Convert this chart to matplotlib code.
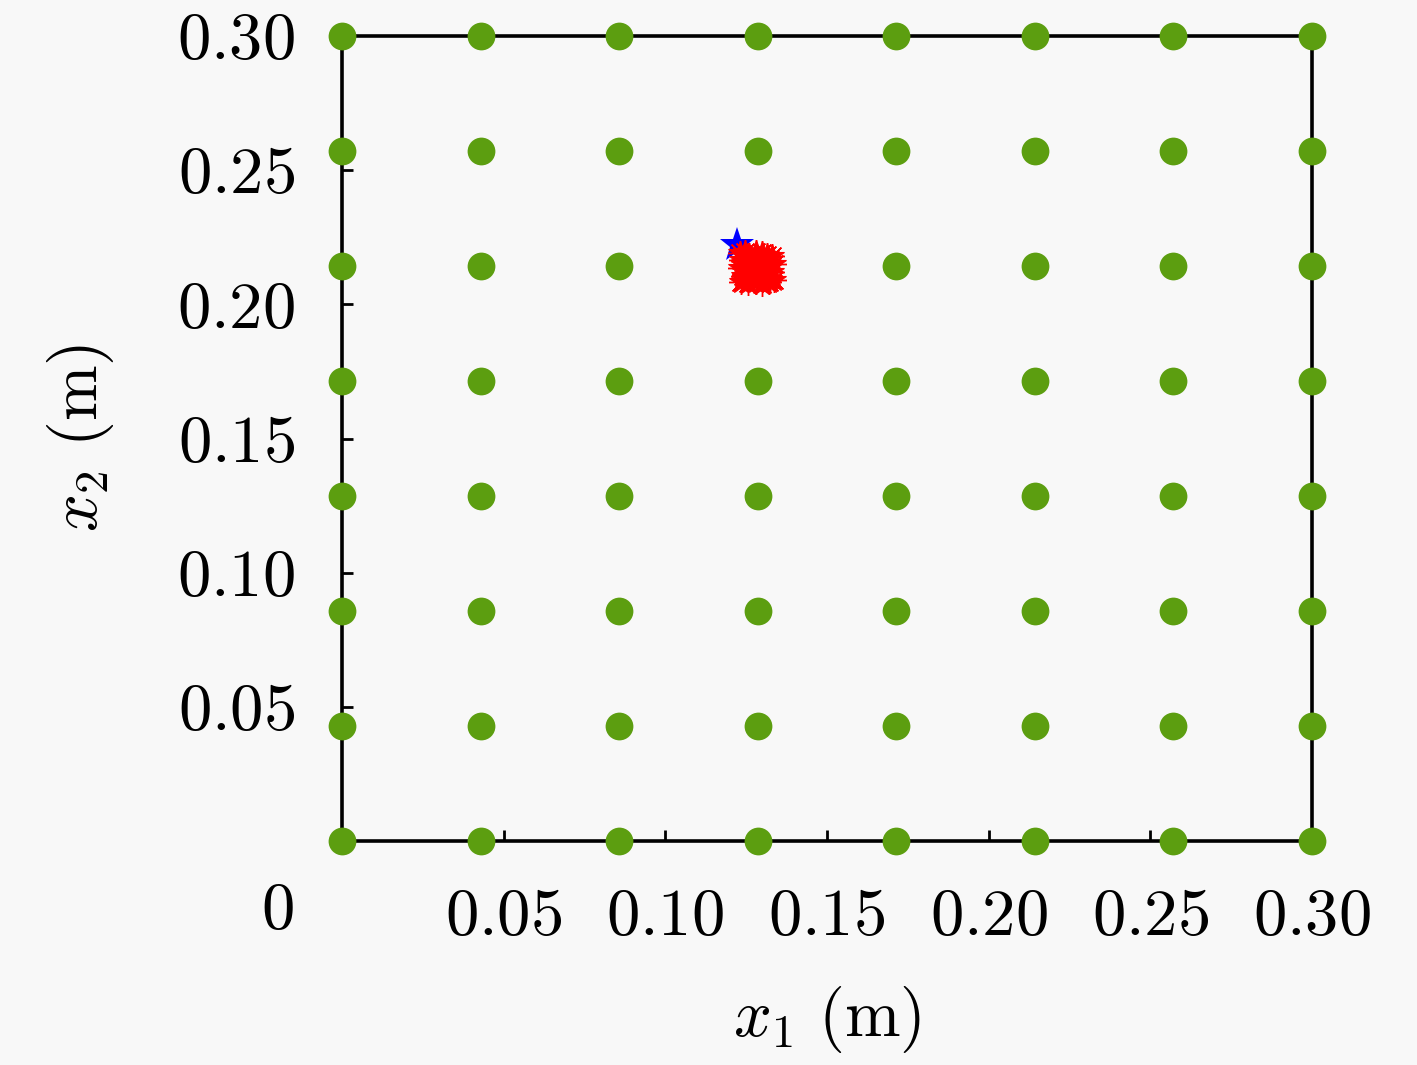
import numpy as np
import matplotlib
matplotlib.use('Agg')
import matplotlib.pyplot as plt

plt.rcParams['mathtext.fontset'] = 'cm'
plt.rcParams['font.family'] = 'serif'
plt.rcParams['font.serif'] = ['cmr10', 'DejaVu Serif']

# 传感器网格 (8x8)
grid_x = [0.0, 0.0429, 0.0857, 0.1286, 0.1714, 0.2143, 0.2571, 0.30]
grid_y = [0.0, 0.0429, 0.0857, 0.1286, 0.1714, 0.2143, 0.2571, 0.30]

# 真实位置 (蓝色五角星)
true_x = [0.1220]
true_y = [0.2220]

# 估计位置 (红色)
est_x = [0.1230, 0.1245, 0.1260, 0.1280, 0.1300, 0.1315, 0.1330,
         0.1235, 0.1255, 0.1275, 0.1295, 0.1320, 0.1335,
         0.1230, 0.1250, 0.1270, 0.1290, 0.1310, 0.1330,
         0.1240, 0.1260, 0.1285, 0.1305, 0.1325,
         0.1235, 0.1255, 0.1280, 0.1300, 0.1320, 0.1335]
est_y = [0.2190, 0.2195, 0.2185, 0.2195, 0.2190, 0.2185, 0.2180,
         0.2165, 0.2160, 0.2170, 0.2160, 0.2165, 0.2150,
         0.2135, 0.2140, 0.2130, 0.2140, 0.2135, 0.2120,
         0.2105, 0.2110, 0.2100, 0.2110, 0.2095,
         0.2085, 0.2080, 0.2085, 0.2075, 0.2085, 0.2090]

xticks = [0.05, 0.10, 0.15, 0.20, 0.25, 0.30]
yticks = [0.05, 0.10, 0.15, 0.20, 0.25, 0.30]

fig = plt.figure(figsize=(14.17, 10.65), dpi=100, facecolor='#f8f8f8')
ax = fig.add_axes([0.2414, 0.2103, 0.6845, 0.7559])
ax.set_facecolor('#f8f8f8')

gx, gy = np.meshgrid(grid_x, grid_y)
ax.plot(gx.ravel(), gy.ravel(), 'o', color='#5c9e10', markersize=20,
        markeredgewidth=0, clip_on=False, zorder=3)

ax.plot(true_x, true_y, linestyle='none', marker='*', color='blue',
        markersize=26, markeredgewidth=0, clip_on=False, zorder=3)
ax.plot(est_x, est_y, linestyle='none', marker='*', color='red',
        markersize=18, markeredgewidth=0.8, clip_on=False, zorder=4)
ax.plot(est_x, est_y, linestyle='none', marker=(8, 2, 0), color='red',
        markersize=18, markeredgewidth=1.0, clip_on=False, zorder=4)

ax.set_xlim(0, 0.30)
ax.set_ylim(0, 0.30)
ax.set_xticks(xticks)
ax.set_yticks(yticks)
ax.set_xticklabels([r'$%.2f$' % v for v in xticks], fontsize=48)
ax.set_yticklabels([r'$%.2f$' % v for v in yticks], fontsize=48)
ax.tick_params(direction='in', length=8, width=2, pad=34,
               top=False, right=False)
for s in ax.spines.values():
    s.set_linewidth(2.6)

ax.text(-0.02, -0.0265, r'$0$', fontsize=48, ha='center', va='center',
        transform=ax.transData, clip_on=False)

ax.set_xlabel(r'$x_1\ (\mathrm{m})$', fontsize=48, labelpad=26)
ax.set_ylabel(r'$x_2\ (\mathrm{m})$', fontsize=48, labelpad=44)

plt.savefig('out.png', dpi=100, facecolor=fig.get_facecolor())
